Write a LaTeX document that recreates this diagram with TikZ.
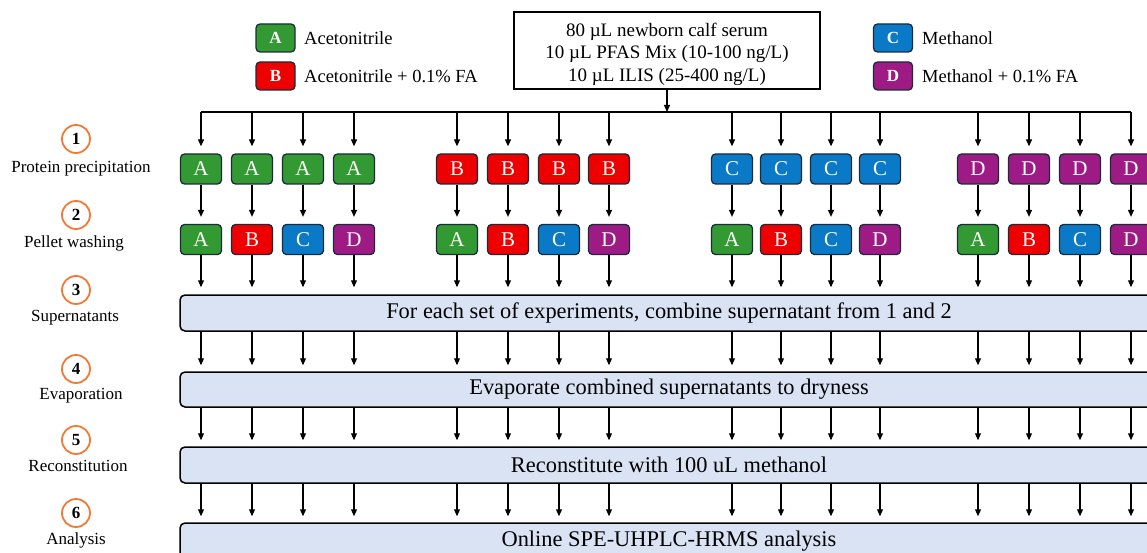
\documentclass[tikz,border=0pt]{standalone}
\usepackage{fontspec}
\setmainfont{Liberation Serif}
\usetikzlibrary{arrows.meta}
\definecolor{cA}{HTML}{339933}
\definecolor{cB}{HTML}{EE0000}
\definecolor{cC}{HTML}{0A7AC8}
\definecolor{cD}{HTML}{9E1A84}
\definecolor{edge}{HTML}{1C2B3A}
\definecolor{orng}{HTML}{F07A35}
\definecolor{panel}{HTML}{DAE3F3}
\tikzset{
 sbox/.style={rectangle, rounded corners=4pt, draw=edge, line width=1.3pt, minimum width=41pt, minimum height=30pt, inner sep=0pt, text=white, font=\fontsize{21}{21}\selectfont},
 lbox/.style={sbox, minimum width=39pt, minimum height=28pt, font=\fontsize{17}{17}\selectfont\bfseries},
 panelbox/.style={rectangle, rounded corners=5pt, draw=black, line width=1.5pt, fill=panel, minimum height=36pt, minimum width=978pt, inner sep=0pt, font=\fontsize{22.4}{22.4}\selectfont},
 arr/.style={-{Triangle[length=7pt,width=6pt]}, line width=1.1pt},
 num/.style={circle, draw=orng, line width=1.8pt, minimum size=28pt, inner sep=0pt, font=\fontsize{17}{17}\selectfont\bfseries},
 lab/.style={inner sep=0pt, font=\fontsize{17}{17}\selectfont},
 legtext/.style={anchor=west, inner sep=0pt, font=\fontsize{18.5}{18.5}\selectfont},
}
\begin{document}
\begin{tikzpicture}[x=1pt,y=-1pt]
\path[use as bounding box] (0,0) rectangle (1147,553);
\clip (0,0) rectangle (1147,553);
% legend
\node[lbox, fill=cA] (kA) at (275.5,38) {A};
\node[legtext] (tA) at (304,38) {Acetonitrile};
\node[lbox, fill=cB] (kB) at (275.5,76) {B};
\node[legtext] (tB) at (304,76) {Acetonitrile + 0.1\% FA};
\node[lbox, fill=cC] (kC) at (893,38) {C};
\node[legtext] (tC) at (922,38) {Methanol};
\node[lbox, fill=cD] (kD) at (893,76) {D};
\node[legtext] (tD) at (922,76) {Methanol + 0.1\% FA};
% source box
\node[draw=black, line width=1.2pt, minimum width=306pt, minimum height=77pt, inner sep=0pt] (src) at (667,50.5)
 {\fontsize{19}{22.5}\selectfont\raisebox{-3.8pt}[\height][\depth]{\begin{tabular}{@{}c@{}}80 µL newborn calf serum\\10 µL PFAS Mix (10-100 ng/L)\\10 µL ILIS (25-400 ng/L)\end{tabular}}};
% step labels
\node[num] (n1) at (76,139) {1};
\node[lab] (l1) at (81,169) {Protein precipitation};
\node[num] (n2) at (76,215) {2};
\node[lab] (l2) at (74,243) {Pellet washing};
\node[num] (n3) at (76,290) {3};
\node[lab] (l3) at (75,318) {Supernatants};
\node[num] (n4) at (76,369) {4};
\node[lab] (l4) at (81,396) {Evaporation};
\node[num] (n5) at (76,440) {5};
\node[lab] (l5) at (78,466) {Reconstitution};
\node[num] (n6) at (76,513) {6};
\node[lab] (l6) at (76,540) {Analysis};
% panels
\node[panelbox] (P1) at (669,313) {For each set of experiments, combine supernatant from 1 and 2};
\node[panelbox, minimum height=35pt] (P2) at (669,389.5) {Evaporate combined supernatants to dryness};
\node[panelbox] (P3) at (669,465) {Reconstitute with 100 uL methanol};
\node[panelbox] (P4) at (669,541) {Online SPE-UHPLC-HRMS analysis};
% sample boxes
\coordinate (bus) at (0,112);
\foreach \x/\t/\b [count=\i] in {201/A/A,252/A/B,303/A/C,354/A/D,457/B/A,508/B/B,559/B/C,609/B/D,732/C/A,781/C/B,831/C/C,880/C/D,978/D/A,1029/D/B,1080/D/C,1131/D/D}{
  \node[sbox, fill=c\t] (p\i) at (\x,169) {\t};
  \node[sbox, fill=c\b] (w\i) at (\x,239.5) {\b};
}
\draw[line width=1.3pt] (p1 |- bus) -- (p16 |- bus);
\draw[arr] (src.south) -- (src.south |- bus);
\foreach \i in {1,...,16}{
  \draw[arr, shorten >=7pt] (p\i |- bus) -- (p\i.north);
  \draw[arr, shorten >=7pt] (p\i.south) -- (w\i.north);
  \draw[arr, shorten >=7pt] (w\i.south) -- (w\i |- P1.north);
  \draw[arr, shorten >=6pt] (w\i |- P1.south) -- (w\i |- P2.north);
  \draw[arr, shorten >=6pt] (w\i |- P2.south) -- (w\i |- P3.north);
  \draw[arr, shorten >=6pt] (w\i |- P3.south) -- (w\i |- P4.north);
}
\end{tikzpicture}
\end{document}
